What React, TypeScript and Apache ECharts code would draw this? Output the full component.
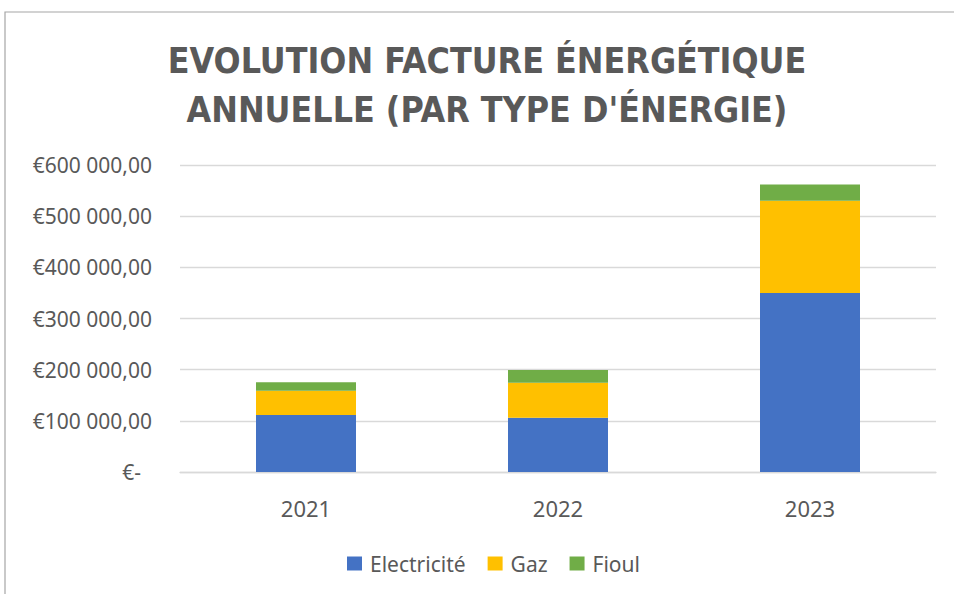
import React, { useEffect, useRef } from "react";
import * as echarts from "echarts";

const categories = ["2021", "2022", "2023"];
const electricite = [111300, 106100, 349600];
const gaz = [47500, 68300, 180300];
const fioul = [16400, 24800, 32000];
const titleLines = ["EVOLUTION FACTURE ÉNERGÉTIQUE", "ANNUELLE (PAR TYPE D'ÉNERGIE)"];

const FONT = "'Noto Sans', 'Open Sans', sans-serif";
const GRAY = "#595959";

function fmt(v: number): string {
  if (v === 0) return "{z|€-}";
  const s = Math.round(v).toString().replace(/\B(?=(\d{3})+(?!\d))/g, " ");
  return "€" + s + ",00";
}

export default function App() {
  const ref = useRef<HTMLDivElement>(null);
  useEffect(() => {
    if (!ref.current) return;
    const chart = echarts.init(ref.current, undefined, { renderer: "svg" });
    chart.setOption({
      animation: false,
      backgroundColor: "#ffffff",
      textStyle: { fontFamily: FONT },
      graphic: [
        {
          type: "rect",
          shape: { x: 5, y: 12, width: 1200, height: 1000 },
          style: { fill: "none", stroke: "#a6a6a6", lineWidth: 1.2 },
          silent: true,
        },
        {
          type: "text",
          x: 487,
          y: 36,
          scaleX: 0.985,
          style: {
            text: titleLines.join("\n"),
            x: 0,
            y: 0,
            textAlign: "center",
            textVerticalAlign: "top",
            fill: GRAY,
            font: "bold 36px 'DejaVu Sans Condensed', 'Liberation Sans Narrow', sans-serif",
            lineHeight: 49,
          },
        },
      ],
      legend: {
        data: ["Electricité", "Gaz", "Fioul"],
        left: 342,
        top: 548,
        itemWidth: 15,
        itemHeight: 14,
        itemGap: 22,
        icon: "rect",
        textStyle: { color: GRAY, fontSize: 21, fontFamily: FONT, padding: [0, 0, 0, 3] },
      },
      grid: { left: 180, right: 18, top: 165, bottom: 122, containLabel: false },
      xAxis: {
        type: "category",
        data: categories,
        axisLine: { show: true, lineStyle: { color: "#d9d9d9", width: 1.3 } },
        axisTick: { show: false },
        axisLabel: { color: GRAY, fontSize: 22, margin: 25, fontFamily: FONT },
      },
      yAxis: {
        type: "value",
        min: 0,
        max: 600000,
        interval: 100000,
        axisLine: { show: false },
        axisTick: { show: false },
        splitLine: { lineStyle: { color: "#d9d9d9", width: 1.3 } },
        axisLabel: {
          color: GRAY,
          fontSize: 21,
          margin: 28,
          fontFamily: FONT,
          formatter: fmt,
          rich: { z: { color: GRAY, fontSize: 21, fontFamily: FONT, padding: [0, 11, 0, 0] } },
        },
      },
      series: [
        { name: "Electricité", type: "bar", stack: "t", data: electricite, barWidth: 100, itemStyle: { color: "#4472c4" } },
        { name: "Gaz", type: "bar", stack: "t", data: gaz, barWidth: 100, itemStyle: { color: "#ffc000" } },
        { name: "Fioul", type: "bar", stack: "t", data: fioul, barWidth: 100, itemStyle: { color: "#70ad47" } },
      ],
    });
    return () => chart.dispose();
  }, []);
  return (
    <div
      ref={ref}
      style={{ position: "absolute", left: 0, top: 0, width: 954, height: 594 }}
    />
  );
}
